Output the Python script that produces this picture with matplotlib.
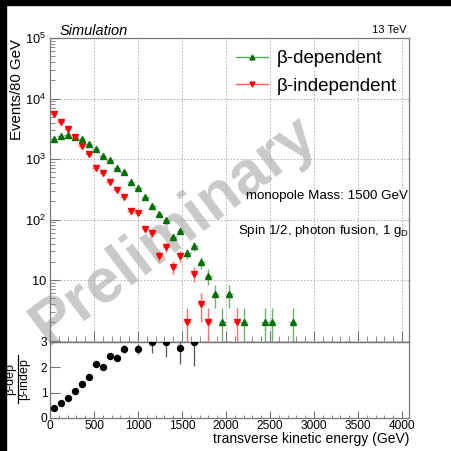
import matplotlib
matplotlib.use('Agg')
import matplotlib.pyplot as plt
import numpy as np
from matplotlib.lines import Line2D
from matplotlib.patches import Rectangle
from matplotlib.ticker import FixedLocator, MultipleLocator, LogLocator, FuncFormatter, NullFormatter

plt.rcParams['font.family'] = ['Liberation Sans', 'DejaVu Sans']
plt.rcParams['mathtext.fontset'] = 'custom'
plt.rcParams['mathtext.rm'] = 'Liberation Sans'
plt.rcParams['mathtext.it'] = 'Liberation Sans:italic'
plt.rcParams['mathtext.bf'] = 'Liberation Sans:bold'

# ---------------- data (80 GeV bins, bin centres) ----------------
dep_x = [40, 120, 200, 280, 360, 440, 520, 600, 680, 760, 840, 920, 1000, 1080, 1160,
         1240, 1320, 1400, 1480, 1560, 1640, 1720, 1800, 1880, 1960, 2040, 2200, 2440, 2520, 2760]
dep_y = [2150, 2360, 2480, 2290, 2150, 1800, 1450, 1135, 960, 715, 615, 415, 330, 238, 169,
         123, 100, 51, 65, 27.5, 36, 19.5, 11.7, 5.9, 2, 5.9, 2, 2, 2, 2]

indep_x = [40, 120, 200, 280, 360, 440, 520, 600, 680, 760, 840, 920, 1000, 1080, 1160,
           1240, 1320, 1400, 1480, 1560, 1640, 1720, 1800, 2120]
indep_y = [5500, 4150, 3130, 2310, 1620, 1190, 710, 578, 410, 310, 240, 138, 128, 70, 59,
           25, 35.5, 16.4, 25, 2, 12.8, 4, 2, 2]

ratio_x = [40, 120, 200, 280, 360, 440, 520, 600, 680, 760, 840, 1000, 1160, 1320, 1480, 1640]
ratio_y = [0.41, 0.59, 0.79, 1.06, 1.36, 1.61, 2.13, 2.03, 2.45, 2.38, 2.71, 2.74, 2.99, 2.99, 2.77, 2.99]
ratio_err = [0.02, 0.03, 0.03, 0.04, 0.05, 0.06, 0.09, 0.09, 0.12, 0.13, 0.16, 0.2, 0.42, 0.57, 0.65, 0.95]

bin_half = 40
xticks = [0, 500, 1000, 1500, 2000, 2500, 3000, 3500, 4000]

W = H = 451.0
def fx(x):
    return x / W
def fy(y):
    return 1 - y / H

fig = plt.figure(figsize=(4.51, 4.51), dpi=100, facecolor='white')

L, R = 50, 409
T, M, B = 38, 342, 418
ax = fig.add_axes([fx(L), fy(M), (R - L) / W, (M - T) / H])
axr = fig.add_axes([fx(L), fy(B), (R - L) / W, (B - M) / H], sharex=ax)
for a in (ax, axr):
    a.set_facecolor('none')
    for s in a.spines.values():
        s.set_color('#777777')
        s.set_linewidth(0.9)

# watermark behind data
fig.text(fx(174), fy(230), 'Preliminary', fontsize=45, fontweight='bold', color='#c9c9c9',
         rotation=37, ha='center', va='center', rotation_mode='anchor', zorder=-1)

# main panel
ax.set_yscale('log')
ax.set_xlim(0, 4080)
ax.set_ylim(0.945, 1e5)

dep_y_a = np.array(dep_y, dtype=float)
indep_y_a = np.array(indep_y, dtype=float)

ax.errorbar(dep_x, dep_y_a, yerr=np.sqrt(dep_y_a), xerr=bin_half, fmt='^', ms=4.8,
            mfc='#007000', mec='#007000', ecolor='#6fb36f', elinewidth=1.0, capsize=0, zorder=4)
ax.errorbar(indep_x, indep_y_a, yerr=np.sqrt(indep_y_a), xerr=bin_half, fmt='v', ms=4.8,
            mfc='#ff0000', mec='#ff0000', ecolor='#ff7070', elinewidth=1.0, capsize=0, zorder=4)

ax.grid(True, which='major', linestyle=(0, (2, 2)), color='#aaaaaa', linewidth=0.6, zorder=1)
ax.xaxis.set_major_locator(FixedLocator(xticks))
ax.xaxis.set_minor_locator(MultipleLocator(100))
ax.yaxis.set_major_locator(LogLocator(base=10, numticks=10))
ax.yaxis.set_minor_locator(LogLocator(base=10, subs=np.arange(2, 10), numticks=20))
ax.yaxis.set_minor_formatter(NullFormatter())

def yfmt(v, pos):
    e = int(round(np.log10(v)))
    if e <= 0:
        return ''
    if e == 1:
        return '10'
    return r'$10^{%d}$' % e
ax.yaxis.set_major_formatter(FuncFormatter(yfmt))
ax.tick_params(axis='both', which='both', direction='in', top=False, right=False,
               color='#777777', labelsize=9.2)
ax.tick_params(axis='x', which='major', length=8, labelbottom=False)
ax.tick_params(axis='x', which='minor', length=4)
ax.tick_params(axis='y', which='major', length=7, pad=3)
ax.tick_params(axis='y', which='minor', length=3.5)

handles = [Line2D([], [], color='#55aa55', lw=1.0, marker='^', ms=3.5, mfc='#007000', mec='#007000'),
           Line2D([], [], color='#ff6060', lw=1.0, marker='v', ms=3.5, mfc='#ff0000', mec='#ff0000')]
ax.legend(handles, ['β-dependent', 'β-independent'], loc='upper left',
          bbox_to_anchor=((236 - L) / (R - L), 1 - (50 - T) / (M - T)), frameon=False,
          fontsize=13.5, handlelength=1.7, handletextpad=0.45, borderpad=0, borderaxespad=0,
          labelspacing=0.55)

# ratio panel
axr.errorbar(ratio_x, ratio_y, yerr=ratio_err, fmt='o', ms=4.3, color='black',
             ecolor='#555555', elinewidth=0.9, capsize=0, zorder=4)
axr.set_ylim(0, 3)
axr.yaxis.set_major_locator(FixedLocator([0, 1, 2, 3]))
axr.xaxis.set_major_locator(FixedLocator(xticks))
axr.xaxis.set_minor_locator(MultipleLocator(100))
axr.tick_params(axis='both', which='both', direction='in', top=False, right=False,
                color='#777777', labelsize=8.6)
axr.tick_params(axis='x', which='major', length=5, pad=1.2)
axr.tick_params(axis='x', which='minor', length=2.5)
axr.tick_params(axis='y', which='major', length=7, pad=2)

# texts
fig.text(fx(60), fy(35), 'Simulation', style='italic', fontsize=10.5, ha='left', va='baseline')
fig.text(fx(406), fy(33), '13 TeV', fontsize=8, ha='right', va='baseline')
fig.text(fx(408), fy(199), 'monopole Mass: 1500 GeV', fontsize=9.6, ha='right', va='baseline')
fig.text(fx(409), fy(234), r'Spin 1/2, photon fusion, 1 g$_{\mathrm{D}}$', fontsize=9.6,
         ha='right', va='baseline')
fig.text(fx(17), fy(90), 'Events/80 GeV', fontsize=10.8, rotation=90, ha='center', va='center')

# ratio y-label as a stacked fraction
fig.text(fx(10.5), fy(379), 'β-dep', fontsize=9, rotation=90, ha='center', va='center')
fig.text(fx(24.5), fy(379), 'β-indep', fontsize=9, rotation=90, ha='center', va='center')
fig.add_artist(Line2D([fx(17.5), fx(17.5)], [fy(355), fy(403)], transform=fig.transFigure,
                      color='black', lw=0.9))

fig.text(fx(409), fy(443), 'transverse kinetic energy (GeV)', fontsize=10, ha='right', va='baseline')

# black border bands of the screenshot
fig.add_artist(Rectangle((0, fy(5)), 1, 5 / H, transform=fig.transFigure, color='black', zorder=10))
fig.add_artist(Rectangle((0, 0), 5.5 / W, 1, transform=fig.transFigure, color='black', zorder=10))

fig.savefig('out.png', dpi=100, facecolor='white')
